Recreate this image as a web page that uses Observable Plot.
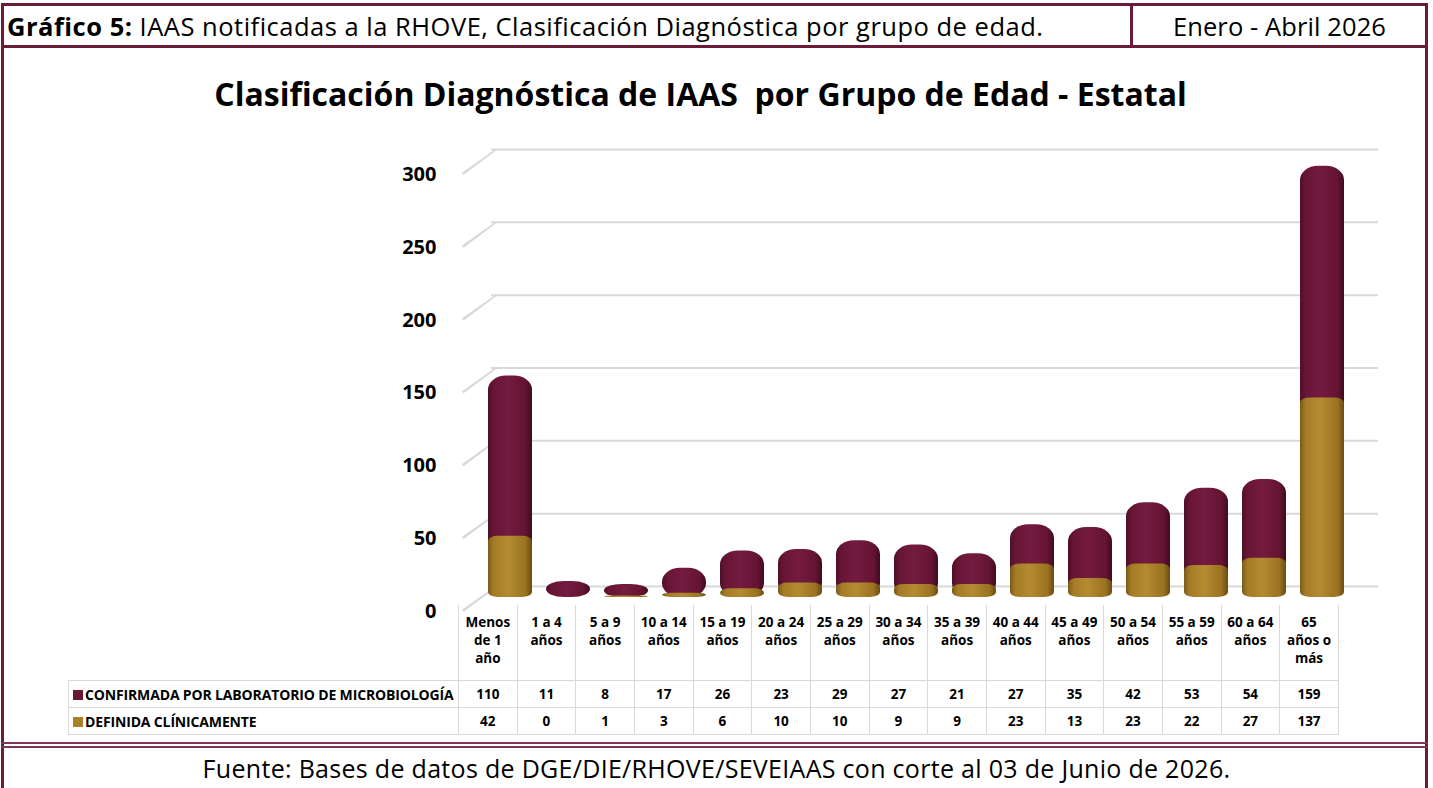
<!DOCTYPE html>
<html lang="es">
<head>
<meta charset="utf-8">
<script src="https://cdn.jsdelivr.net/npm/d3@7"></script>
<script src="https://cdn.jsdelivr.net/npm/@observablehq/plot@0.6"></script>
<style>
  html, body { margin: 0; padding: 0; background: #fff; }
  body { width: 1433px; height: 788px; overflow: hidden; position: relative; font-family: "Open Sans", "Noto Sans", sans-serif; }
  .abs { position: absolute; }
  .line { position: absolute; background: #6b1a3a; }
  #hdr { left: 7px; top: 4px; height: 44px; line-height: 44px; font-size: 25.5px; color: #000; white-space: nowrap; letter-spacing: 0.5px; }
  #fecha { left: 1134px; width: 291px; top: 4px; height: 44px; line-height: 44px; font-size: 25.5px; text-align: center; white-space: nowrap; letter-spacing: 0.1px; }
  #titulo { left: 0; width: 1401px; top: 72px; text-align: center; font-size: 32px; font-weight: 700; color: #000; white-space: nowrap; letter-spacing: 0px; }
  #fuente { left: 0; width: 1433px; top: 751px; text-align: center; font-size: 25px; color: #000; white-space: nowrap; letter-spacing: 0.3px; }
  #tabla { position: absolute; left: 68px; top: 605px; border-collapse: collapse; table-layout: fixed; font-weight: 700; font-size: 13.5px; color: #000; }
  #tabla td { border: 1.5px solid #d9d9d9; text-align: center; padding: 0; height: 26px; white-space: nowrap; }
  #tabla tr.h td { border-top: none; height: 67px; vertical-align: top; padding-top: 8px; line-height: 18px; font-size: 13.5px; }
  #tabla tr.h td.vacio { border: none; border-right: 1.5px solid #d9d9d9; }
  #tabla td.lab { text-align: left; padding-left: 4px; font-size: 14px; letter-spacing: -0.15px; }
  .sq { display: inline-block; width: 10px; height: 10px; margin-right: 2px; }
</style>
</head>
<body>
<div id="root"></div>
<script>
// ---- Data ----
const categorias = ["Menos de 1 año", "1 a 4 años", "5 a 9 años", "10 a 14 años", "15 a 19 años", "20 a 24 años", "25 a 29 años", "30 a 34 años", "35 a 39 años", "40 a 44 años", "45 a 49 años", "50 a 54 años", "55 a 59 años", "60 a 64 años", "65 años o más"];
const etiquetas = [["Menos", "de 1", "año"], ["1 a 4", "años"], ["5 a 9", "años"], ["10 a 14", "años"], ["15 a 19", "años"], ["20 a 24", "años"], ["25 a 29", "años"], ["30 a 34", "años"], ["35 a 39", "años"], ["40 a 44", "años"], ["45 a 49", "años"], ["50 a 54", "años"], ["55 a 59", "años"], ["60 a 64", "años"], ["65", "años o", "más"]];
const confirmada = [110, 11, 8, 17, 26, 23, 29, 27, 21, 27, 35, 42, 53, 54, 159];
const definida = [42, 0, 1, 3, 6, 10, 10, 9, 9, 23, 13, 23, 22, 27, 137];
const yTicks = [0, 50, 100, 150, 200, 250, 300];
const series = ["CONFIRMADA POR LABORATORIO DE MICROBIOLOGÍA", "DEFINIDA CLÍNICAMENTE"];
const colores = ["#6b1636", "#a8822b"];
const textoHeader = ["Gráfico 5:", " IAAS notificadas a la RHOVE, Clasificación Diagnóstica por grupo de edad."];
const textoFecha = "Enero - Abril 2026";
const textoTitulo = "Clasificación Diagnóstica de IAAS\u00a0 por Grupo de Edad - Estatal";
const textoFuente = "Fuente: Bases de datos de DGE/DIE/RHOVE/SEVEIAAS con corte al 03 de Junio de 2026.";

const datos = categorias.map((c, i) => ({cat: c, confirmada: confirmada[i], definida: definida[i], total: confirmada[i] + definida[i]}));

const root = document.getElementById("root");
function add(html) { root.insertAdjacentHTML("beforeend", html); }

// frame lines
add(`<div class="line" style="left:1px;top:3px;width:1427px;height:3px"></div>`);
add(`<div class="line" style="left:1px;top:45px;width:1427px;height:3px"></div>`);
add(`<div class="line" style="left:1px;top:3px;width:3px;height:790px"></div>`);
add(`<div class="line" style="left:1425px;top:3px;width:3px;height:790px"></div>`);
add(`<div class="line" style="left:1130px;top:3px;width:3px;height:43px"></div>`);
add(`<div class="line" style="left:1px;top:742px;width:1427px;height:2px;background:#7d3556"></div>`);
add(`<div class="line" style="left:1px;top:746px;width:1427px;height:2px;background:#7d3556"></div>`);

add(`<div id="hdr" class="abs"><b>${textoHeader[0]}</b>${textoHeader[1]}</div>`);
add(`<div id="fecha" class="abs">${textoFecha}</div>`);
add(`<div id="titulo" class="abs">${textoTitulo}</div>`);
add(`<div id="fuente" class="abs">${textoFuente}</div>`);

// ---- Plot ----
const W = 1433, H = 480;
const svg = Plot.plot({
  width: W,
  height: H,
  marginLeft: 458,
  marginRight: 95,
  marginTop: 30,
  marginBottom: 13,
  style: {fontFamily: "'Open Sans', sans-serif", background: "transparent", overflow: "visible"},
  x: {domain: categorias, padding: 0, axis: null},
  y: {domain: [0, 300], axis: null},
  marks: [
    Plot.ruleY(yTicks, {y: d => d, stroke: "#d9d9d9", strokeWidth: 2, insetLeft: 33, insetRight: -40, dy: -11}),
    Plot.vector(yTicks, {x: () => categorias[0], y: d => d, length: 41, rotate: 54, anchor: "start", shape: "spike", r: 0.6, fill: "#d9d9d9", stroke: "#d9d9d9", strokeWidth: 1.5, dx: -29.3, dy: 13}),
    Plot.axisY(yTicks, {tickSize: 0, tickPadding: 22, fontSize: 20, fontWeight: "bold", fill: "#000", dy: 14, label: null}),
    Plot.barY(datos, {x: "cat", y1: 0, y2: "total", fill: "url(#gMaroon)", insetLeft: 7, insetRight: 7, dx: 18, rx: 18, ry: 14}),
    Plot.barY(datos, {x: "cat", y1: 0, y2: "definida", fill: "url(#gGold)", insetLeft: 7, insetRight: 7, dx: 18, rx: 10, ry: 5})
  ]
});

const NS = "http://www.w3.org/2000/svg";
const defs = document.createElementNS(NS, "defs");
function grad(id, stops) {
  const g = document.createElementNS(NS, "linearGradient");
  g.setAttribute("id", id);
  g.setAttribute("x1", "0"); g.setAttribute("x2", "1"); g.setAttribute("y1", "0"); g.setAttribute("y2", "0");
  for (const [o, c] of stops) {
    const s = document.createElementNS(NS, "stop");
    s.setAttribute("offset", o); s.setAttribute("stop-color", c);
    g.appendChild(s);
  }
  defs.appendChild(g);
}
grad("gMaroon", [["0", "#4e0f28"], ["0.12", "#671535"], ["0.45", "#741b3f"], ["0.85", "#651433"], ["1", "#3e0a20"]]);
grad("gGold", [["0", "#7a5a17"], ["0.12", "#a37b26"], ["0.45", "#b58b31"], ["0.85", "#9a7322"], ["1", "#6a4b12"]]);
svg.insertBefore(defs, svg.firstChild);
svg.style.position = "absolute";
svg.style.left = "0px";
svg.style.top = "130px";
root.appendChild(svg);

// ---- Table ----
let t = `<table id="tabla"><colgroup><col style="width:390px">` + categorias.map(() => `<col style="width:${880 / 15}px">`).join("") + `</colgroup>`;
t += `<tr class="h"><td class="vacio"></td>` + etiquetas.map(e => `<td>${e.join("<br>")}</td>`).join("") + `</tr>`;
const filas = [confirmada, definida];
series.forEach((s, k) => {
  t += `<tr><td class="lab"><span class="sq" style="background:${colores[k]}"></span>${s}</td>` + filas[k].map(v => `<td>${v}</td>`).join("") + `</tr>`;
});
t += `</table>`;
add(t);
</script>
</body>
</html>
